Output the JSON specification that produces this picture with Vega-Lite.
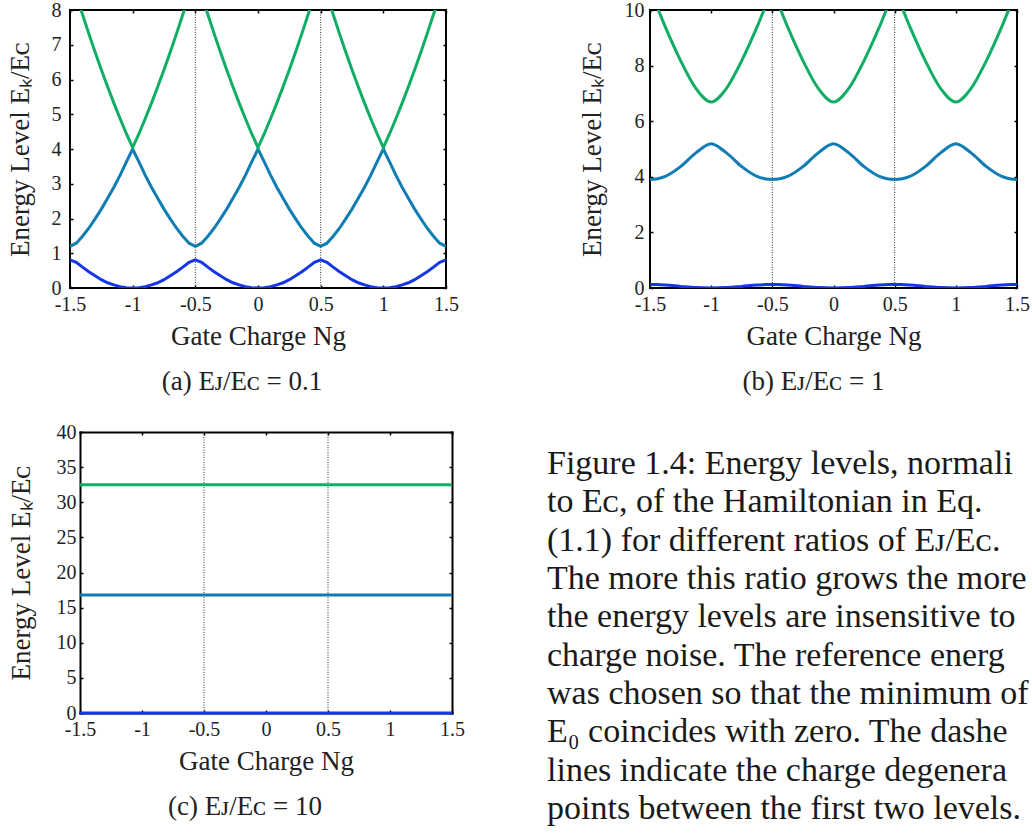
{
  "$schema": "https://vega.github.io/schema/vega-lite/v6.json",
  "padding": {"left": 5, "top": -1, "right": 0, "bottom": 0},
  "background": "white",
  "spacing": 82,
  "config": {
    "font": "Liberation Serif",
    "view": {"stroke": "#000", "strokeWidth": 2},
    "axis": {"grid": false, "domain": false, "labelFont": "Liberation Serif", "labelFontSize": 20, "labelColor": "#222", "titleFont": "Liberation Serif", "titleFontSize": 27, "titleFontWeight": "normal", "titleColor": "#222", "tickColor": "#000", "tickSize": -3, "tickWidth": 1.5, "labelFlush": false},
    "axisX": {"labelPadding": 9, "titlePadding": 9},
    "title": {"font": "Liberation Serif", "fontSize": 27, "fontWeight": "normal", "color": "#222", "orient": "bottom", "offset": 20, "frame": "group"}
  },
  "hconcat": [
    {
      "columns": 1,
      "align": "none",
      "spacing": 26,
      "concat": [
        {
          "width": 376, "height": 278,
          "title": {"text": "(a) Eᴊ/Eᴄ = 0.1", "dx": -16},
          "resolve": {"axis": {"x": "independent", "y": "independent"}},
          "layer": [
            {
              "data": {"values": [{"ng": -0.5}, {"ng": 0.5}]},
              "mark": {"type": "rule", "color": "#333", "strokeWidth": 1, "strokeDash": [1, 1.5]},
              "encoding": {
                "x": {"field": "ng", "type": "quantitative", "scale": {"domain": [-1.5, 1.5], "nice": false, "zero": false}, "axis": {"orient": "top", "values": [-1.5, -1, -0.5, 0, 0.5, 1, 1.5], "labels": false, "title": null}},
                "y": {"datum": 0, "type": "quantitative", "scale": {"domain": [0, 8], "nice": false, "zero": false}, "axis": {"orient": "right", "values": [0, 1, 2, 3, 4, 5, 6, 7, 8], "labels": false, "title": null}},
                "y2": {"datum": 8}
              }
            },
            {
              "data": {"values": [
                {"ng": -1.5, "E0": 0.81, "E1": 1.2, "E2": 8.98},
                {"ng": -1.45, "E0": 0.74, "E1": 1.29, "E2": 8.41},
                {"ng": -1.4, "E0": 0.6, "E1": 1.49, "E2": 7.87},
                {"ng": -1.35, "E0": 0.47, "E1": 1.72, "E2": 7.32},
                {"ng": -1.3, "E0": 0.35, "E1": 1.99, "E2": 6.79},
                {"ng": -1.25, "E0": 0.24, "E1": 2.27, "E2": 6.28},
                {"ng": -1.2, "E0": 0.15, "E1": 2.58, "E2": 5.79},
                {"ng": -1.15, "E0": 0.09, "E1": 2.9, "E2": 5.32},
                {"ng": -1.1, "E0": 0.04, "E1": 3.25, "E2": 4.87},
                {"ng": -1.05, "E0": 0.01, "E1": 3.63, "E2": 4.44},
                {"ng": -1.0, "E0": 0.0, "E1": 4.0, "E2": 4.04},
                {"ng": -0.95, "E0": 0.01, "E1": 3.63, "E2": 4.44},
                {"ng": -0.9, "E0": 0.04, "E1": 3.25, "E2": 4.87},
                {"ng": -0.85, "E0": 0.09, "E1": 2.9, "E2": 5.32},
                {"ng": -0.8, "E0": 0.15, "E1": 2.58, "E2": 5.79},
                {"ng": -0.75, "E0": 0.24, "E1": 2.27, "E2": 6.28},
                {"ng": -0.7, "E0": 0.35, "E1": 1.99, "E2": 6.79},
                {"ng": -0.65, "E0": 0.47, "E1": 1.72, "E2": 7.32},
                {"ng": -0.6, "E0": 0.6, "E1": 1.49, "E2": 7.87},
                {"ng": -0.55, "E0": 0.74, "E1": 1.29, "E2": 8.41},
                {"ng": -0.5, "E0": 0.81, "E1": 1.2, "E2": 8.98},
                {"ng": -0.45, "E0": 0.74, "E1": 1.29, "E2": 8.41},
                {"ng": -0.4, "E0": 0.6, "E1": 1.49, "E2": 7.87},
                {"ng": -0.35, "E0": 0.47, "E1": 1.72, "E2": 7.32},
                {"ng": -0.3, "E0": 0.35, "E1": 1.99, "E2": 6.79},
                {"ng": -0.25, "E0": 0.24, "E1": 2.27, "E2": 6.28},
                {"ng": -0.2, "E0": 0.15, "E1": 2.58, "E2": 5.79},
                {"ng": -0.15, "E0": 0.09, "E1": 2.9, "E2": 5.32},
                {"ng": -0.1, "E0": 0.04, "E1": 3.25, "E2": 4.87},
                {"ng": -0.05, "E0": 0.01, "E1": 3.63, "E2": 4.44},
                {"ng": 0.0, "E0": 0.0, "E1": 4.0, "E2": 4.04},
                {"ng": 0.05, "E0": 0.01, "E1": 3.63, "E2": 4.44},
                {"ng": 0.1, "E0": 0.04, "E1": 3.25, "E2": 4.87},
                {"ng": 0.15, "E0": 0.09, "E1": 2.9, "E2": 5.32},
                {"ng": 0.2, "E0": 0.15, "E1": 2.58, "E2": 5.79},
                {"ng": 0.25, "E0": 0.24, "E1": 2.27, "E2": 6.28},
                {"ng": 0.3, "E0": 0.35, "E1": 1.99, "E2": 6.79},
                {"ng": 0.35, "E0": 0.47, "E1": 1.72, "E2": 7.32},
                {"ng": 0.4, "E0": 0.6, "E1": 1.49, "E2": 7.87},
                {"ng": 0.45, "E0": 0.74, "E1": 1.29, "E2": 8.41},
                {"ng": 0.5, "E0": 0.81, "E1": 1.2, "E2": 8.98},
                {"ng": 0.55, "E0": 0.74, "E1": 1.29, "E2": 8.41},
                {"ng": 0.6, "E0": 0.6, "E1": 1.49, "E2": 7.87},
                {"ng": 0.65, "E0": 0.47, "E1": 1.72, "E2": 7.32},
                {"ng": 0.7, "E0": 0.35, "E1": 1.99, "E2": 6.79},
                {"ng": 0.75, "E0": 0.24, "E1": 2.27, "E2": 6.28},
                {"ng": 0.8, "E0": 0.15, "E1": 2.58, "E2": 5.79},
                {"ng": 0.85, "E0": 0.09, "E1": 2.9, "E2": 5.32},
                {"ng": 0.9, "E0": 0.04, "E1": 3.25, "E2": 4.87},
                {"ng": 0.95, "E0": 0.01, "E1": 3.63, "E2": 4.44},
                {"ng": 1.0, "E0": 0.0, "E1": 4.0, "E2": 4.04},
                {"ng": 1.05, "E0": 0.01, "E1": 3.63, "E2": 4.44},
                {"ng": 1.1, "E0": 0.04, "E1": 3.25, "E2": 4.87},
                {"ng": 1.15, "E0": 0.09, "E1": 2.9, "E2": 5.32},
                {"ng": 1.2, "E0": 0.15, "E1": 2.58, "E2": 5.79},
                {"ng": 1.25, "E0": 0.24, "E1": 2.27, "E2": 6.28},
                {"ng": 1.3, "E0": 0.35, "E1": 1.99, "E2": 6.79},
                {"ng": 1.35, "E0": 0.47, "E1": 1.72, "E2": 7.32},
                {"ng": 1.4, "E0": 0.6, "E1": 1.49, "E2": 7.87},
                {"ng": 1.45, "E0": 0.74, "E1": 1.29, "E2": 8.41},
                {"ng": 1.5, "E0": 0.81, "E1": 1.2, "E2": 8.98}
              ]},
              "transform": [{"fold": ["E0", "E1", "E2"], "as": ["level", "E"]}],
              "mark": {"type": "line", "clip": true, "strokeWidth": 3},
              "encoding": {
                "x": {"field": "ng", "type": "quantitative", "scale": {"domain": [-1.5, 1.5], "nice": false, "zero": false}, "axis": {"orient": "bottom", "values": [-1.5, -1, -0.5, 0, 0.5, 1, 1.5], "labelExpr": "toString(datum.value)", "title": "Gate Charge Ng"}},
                "y": {"field": "E", "type": "quantitative", "scale": {"domain": [0, 8], "nice": false, "zero": false}, "axis": {"orient": "left", "values": [0, 1, 2, 3, 4, 5, 6, 7, 8], "title": "Energy Level Eₖ/Eᴄ", "labelPadding": 12, "titlePadding": 17}},
                "color": {"field": "level", "type": "nominal", "scale": {"domain": ["E0", "E1", "E2"], "range": ["#1436e6", "#0f7db4", "#10ae64"]}, "legend": null}
              }
            }
          ]
        },
        {
          "width": 382, "height": 281,
          "view": {"stroke": null},
          "title": {"text": "(c) Eᴊ/Eᴄ = 10", "dx": -16},
          "resolve": {"axis": {"x": "independent", "y": "independent"}},
          "layer": [
            {
              "data": {"values": [{"ng": -0.5}, {"ng": 0.5}]},
              "mark": {"type": "rule", "color": "#333", "strokeWidth": 1, "strokeDash": [1, 1.5]},
              "encoding": {
                "x": {"field": "ng", "type": "quantitative", "scale": {"domain": [-1.5, 1.5], "range": [10, 382], "nice": false, "zero": false}, "axis": {"orient": "top", "values": [-1.5, -1, -0.5, 0, 0.5, 1, 1.5], "labels": false, "title": null, "domain": true, "domainColor": "#000", "domainWidth": 2, "domainCap": "square"}},
                "y": {"datum": 0, "type": "quantitative", "scale": {"domain": [0, 40], "nice": false, "zero": false}, "axis": {"orient": "right", "values": [0, 5, 10, 15, 20, 25, 30, 35, 40], "labels": false, "title": null, "domain": true, "domainColor": "#000", "domainWidth": 2, "domainCap": "square"}},
                "y2": {"datum": 40}
              }
            },
            {
              "data": {"values": [
                {"ng": -1.5, "E0": 0.0, "E1": 16.8, "E2": 32.5},
                {"ng": -1.0, "E0": 0.0, "E1": 16.8, "E2": 32.5},
                {"ng": -0.5, "E0": 0.0, "E1": 16.8, "E2": 32.5},
                {"ng": 0.0, "E0": 0.0, "E1": 16.8, "E2": 32.5},
                {"ng": 0.5, "E0": 0.0, "E1": 16.8, "E2": 32.5},
                {"ng": 1.0, "E0": 0.0, "E1": 16.8, "E2": 32.5},
                {"ng": 1.5, "E0": 0.0, "E1": 16.8, "E2": 32.5}
              ]},
              "transform": [{"fold": ["E0", "E1", "E2"], "as": ["level", "E"]}],
              "mark": {"type": "line", "clip": false, "strokeWidth": 3},
              "encoding": {
                "x": {"field": "ng", "type": "quantitative", "scale": {"domain": [-1.5, 1.5], "range": [10, 382], "nice": false, "zero": false}, "axis": {"orient": "bottom", "values": [-1.5, -1, -0.5, 0, 0.5, 1, 1.5], "labelExpr": "toString(datum.value)", "title": "Gate Charge Ng", "domain": true, "domainColor": "#000", "domainWidth": 2, "domainCap": "square"}},
                "y": {"field": "E", "type": "quantitative", "scale": {"domain": [0, 40], "nice": false, "zero": false}, "axis": {"orient": "left", "offset": -10, "values": [0, 5, 10, 15, 20, 25, 30, 35, 40], "title": "Energy Level Eₖ/Eᴄ", "labelPadding": 7, "titlePadding": 21, "domain": true, "domainColor": "#000", "domainWidth": 2, "domainCap": "square"}},
                "color": {"field": "level", "type": "nominal", "scale": {"domain": ["E0", "E1", "E2"], "range": ["#1436e6", "#0f7db4", "#10ae64"]}, "legend": null}
              }
            }
          ]
        }
      ]
    },
    {
      "columns": 1,
      "align": {"row": "none", "column": "all"},
      "spacing": 51,
      "concat": [
        {
          "width": 367, "height": 278,
          "title": {"text": "(b) Eᴊ/Eᴄ = 1", "dx": -20},
          "resolve": {"axis": {"x": "independent", "y": "independent"}},
          "layer": [
            {
              "data": {"values": [{"ng": -0.5}, {"ng": 0.5}]},
              "mark": {"type": "rule", "color": "#333", "strokeWidth": 1, "strokeDash": [1, 1.5]},
              "encoding": {
                "x": {"field": "ng", "type": "quantitative", "scale": {"domain": [-1.5, 1.5], "nice": false, "zero": false}, "axis": {"orient": "top", "values": [-1.5, -1, -0.5, 0, 0.5, 1, 1.5], "labels": false, "title": null}},
                "y": {"datum": 0, "type": "quantitative", "scale": {"domain": [0, 10], "nice": false, "zero": false}, "axis": {"orient": "right", "values": [0, 2, 4, 6, 8, 10], "labels": false, "title": null}},
                "y2": {"datum": 10}
              }
            },
            {
              "data": {"values": [
                {"ng": -1.5, "E0": 0.126, "E1": 3.907, "E2": 10.655},
                {"ng": -1.45, "E0": 0.122, "E1": 3.922, "E2": 10.19},
                {"ng": -1.375, "E0": 0.105, "E1": 4.016, "E2": 9.39},
                {"ng": -1.25, "E0": 0.058, "E1": 4.366, "E2": 8.178},
                {"ng": -1.125, "E0": 0.016, "E1": 4.859, "E2": 7.18},
                {"ng": -1.0, "E0": 0.0, "E1": 5.188, "E2": 6.689},
                {"ng": -0.875, "E0": 0.016, "E1": 4.859, "E2": 7.18},
                {"ng": -0.75, "E0": 0.058, "E1": 4.366, "E2": 8.178},
                {"ng": -0.625, "E0": 0.105, "E1": 4.016, "E2": 9.39},
                {"ng": -0.55, "E0": 0.122, "E1": 3.922, "E2": 10.19},
                {"ng": -0.5, "E0": 0.126, "E1": 3.907, "E2": 10.655},
                {"ng": -0.45, "E0": 0.122, "E1": 3.922, "E2": 10.19},
                {"ng": -0.375, "E0": 0.105, "E1": 4.016, "E2": 9.39},
                {"ng": -0.25, "E0": 0.058, "E1": 4.366, "E2": 8.178},
                {"ng": -0.125, "E0": 0.016, "E1": 4.859, "E2": 7.18},
                {"ng": 0.0, "E0": 0.0, "E1": 5.188, "E2": 6.689},
                {"ng": 0.125, "E0": 0.016, "E1": 4.859, "E2": 7.18},
                {"ng": 0.25, "E0": 0.058, "E1": 4.366, "E2": 8.178},
                {"ng": 0.375, "E0": 0.105, "E1": 4.016, "E2": 9.39},
                {"ng": 0.45, "E0": 0.122, "E1": 3.922, "E2": 10.19},
                {"ng": 0.5, "E0": 0.126, "E1": 3.907, "E2": 10.655},
                {"ng": 0.55, "E0": 0.122, "E1": 3.922, "E2": 10.19},
                {"ng": 0.625, "E0": 0.105, "E1": 4.016, "E2": 9.39},
                {"ng": 0.75, "E0": 0.058, "E1": 4.366, "E2": 8.178},
                {"ng": 0.875, "E0": 0.016, "E1": 4.859, "E2": 7.18},
                {"ng": 1.0, "E0": 0.0, "E1": 5.188, "E2": 6.689},
                {"ng": 1.125, "E0": 0.016, "E1": 4.859, "E2": 7.18},
                {"ng": 1.25, "E0": 0.058, "E1": 4.366, "E2": 8.178},
                {"ng": 1.375, "E0": 0.105, "E1": 4.016, "E2": 9.39},
                {"ng": 1.45, "E0": 0.122, "E1": 3.922, "E2": 10.19},
                {"ng": 1.5, "E0": 0.126, "E1": 3.907, "E2": 10.655}
              ]},
              "transform": [{"fold": ["E0", "E1", "E2"], "as": ["level", "E"]}],
              "mark": {"type": "line", "clip": true, "strokeWidth": 3, "interpolate": "monotone"},
              "encoding": {
                "x": {"field": "ng", "type": "quantitative", "scale": {"domain": [-1.5, 1.5], "nice": false, "zero": false}, "axis": {"orient": "bottom", "values": [-1.5, -1, -0.5, 0, 0.5, 1, 1.5], "labelExpr": "toString(datum.value)", "title": "Gate Charge Ng"}},
                "y": {"field": "E", "type": "quantitative", "scale": {"domain": [0, 10], "nice": false, "zero": false}, "axis": {"orient": "left", "values": [0, 2, 4, 6, 8, 10], "title": "Energy Level Eₖ/Eᴄ", "labelPadding": 9, "titlePadding": 18}},
                "color": {"field": "level", "type": "nominal", "scale": {"domain": ["E0", "E1", "E2"], "range": ["#1436e6", "#0f7db4", "#10ae64"]}, "legend": null}
              }
            }
          ]
        },
        {
          "width": 370, "height": 345,
          "view": {"stroke": null},
          "data": {"values": [
            {"line": 1, "text": "Figure 1.4: Energy levels, normalised"},
            {"line": 2, "text": "to Eᴄ, of the Hamiltonian in Eq."},
            {"line": 3, "text": "(1.1) for different ratios of Eᴊ/Eᴄ."},
            {"line": 4, "text": "The more this ratio grows the more"},
            {"line": 5, "text": "the energy levels are insensitive to"},
            {"line": 6, "text": "charge noise.  The reference energy"},
            {"line": 7, "text": "was chosen so that the minimum of"},
            {"line": 8, "text": "E₀ coincides with zero.  The dashed"},
            {"line": 9, "text": "lines indicate the charge degeneracy"},
            {"line": 10, "text": "points between the first two levels."}
          ]},
          "mark": {"type": "text", "align": "left", "baseline": "top", "fontSize": 34, "font": "Liberation Serif", "color": "#1a1a1a", "limit": 482, "ellipsis": " ", "dx": -103},
          "encoding": {
            "x": {"value": 0},
            "y": {"field": "line", "type": "ordinal", "scale": {"type": "point", "padding": 0}, "axis": null},
            "text": {"field": "text"}
          }
        }
      ]
    }
  ]
}
